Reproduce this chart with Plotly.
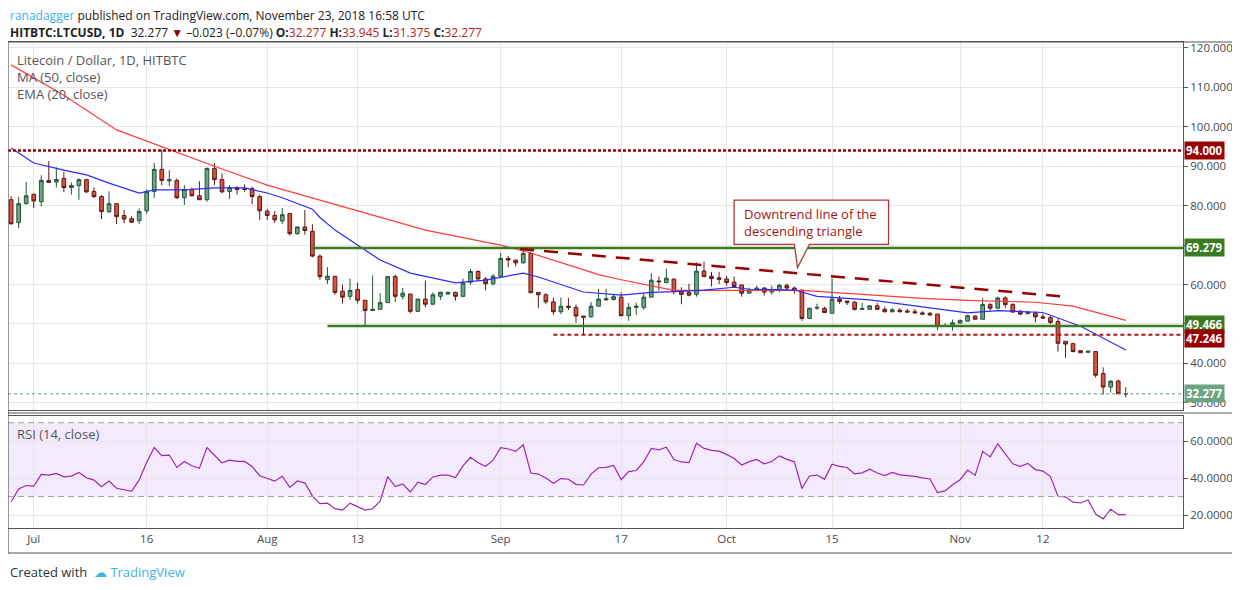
import pandas as pd
import plotly.graph_objects as go
from plotly.subplots import make_subplots

# ---------------------------------------------------------------
# Data (HITBTC:LTCUSD daily, Jun 28 - Nov 23 2018)
# ---------------------------------------------------------------
START = "2018-06-28"
opens = [81.5, 75.7, 80.5, 82.9, 81.0, 86.4, 86.0, 86.9, 84.6, 85.1,
         86.6, 83.6, 82.3, 78.5, 80.5, 77.5, 76.7, 76.2, 78.7, 83.6,
         89.2, 86.3, 86.4, 82.0, 84.1, 82.5, 81.5, 89.4, 86.6, 83.6,
         84.6, 84.3, 84.3, 82.3, 78.6, 77.5, 76.1, 78.0, 72.9, 74.6,
         73.5, 67.2, 61.2, 62.1, 58.3, 57.0, 58.7, 56.0, 53.4, 53.7,
         55.4, 62.0, 57.0, 57.6, 53.2, 56.3, 55.0, 57.0, 57.6, 58.0,
         57.0, 60.6, 63.3, 61.4, 60.2, 62.1, 66.6, 66.2, 65.5, 67.9,
         58.0, 57.4, 55.6, 53.1, 54.5, 54.2, 52.0, 51.8, 54.5, 56.1,
         56.2, 56.8, 52.1, 54.2, 54.2, 56.8, 60.9, 60.5, 61.4, 58.2,
         58.0, 57.5, 63.4, 62.1, 61.7, 61.4, 60.6, 59.9, 57.8, 58.6,
         59.1, 58.1, 58.6, 59.8, 59.1, 58.6, 51.4, 54.0, 53.9, 52.7,
         56.3, 55.8, 55.5, 53.7, 53.7, 54.6, 53.7, 53.1, 53.5, 53.3,
         53.1, 52.8, 52.7, 52.5, 49.4, 49.5, 50.2, 50.7, 52.0, 51.2,
         54.9, 54.0, 56.6, 54.9, 53.2, 52.6, 52.8, 51.8, 51.6, 50.6,
         45.6, 45.0, 43.2, 42.8, 43.0, 37.4, 34.0, 35.5, 32.277]
highs = [82.4, 82.2, 86.0, 83.0, 87.7, 91.3, 89.7, 88.5, 85.9, 86.9,
         86.8, 84.6, 82.7, 83.6, 80.5, 78.9, 77.3, 79.3, 84.1, 90.8,
         94.2, 89.0, 86.9, 85.2, 84.6, 86.2, 89.7, 90.8, 88.2, 85.2,
         84.9, 85.4, 84.8, 82.8, 79.2, 78.6, 79.4, 78.0, 74.6, 78.9,
         75.3, 67.6, 64.4, 62.1, 60.0, 61.5, 60.5, 56.0, 62.3, 57.8,
         62.0, 62.5, 59.1, 57.6, 56.3, 61.0, 58.0, 58.2, 58.2, 58.2,
         61.5, 63.9, 63.6, 61.9, 62.7, 68.0, 67.2, 66.2, 69.1, 68.3,
         58.0, 57.8, 56.7, 56.7, 56.6, 54.9, 52.0, 55.6, 58.9, 58.9,
         57.6, 58.0, 55.3, 55.4, 57.6, 62.9, 62.0, 64.0, 61.4, 59.3,
         60.2, 65.6, 65.8, 63.2, 63.2, 62.2, 62.0, 59.9, 59.2, 59.7,
         59.3, 59.7, 60.2, 60.2, 59.5, 58.6, 54.0, 55.1, 54.4, 61.6,
         57.1, 55.8, 55.8, 55.4, 54.6, 55.3, 54.4, 54.0, 54.0, 53.8,
         53.8, 53.2, 53.0, 52.5, 50.2, 51.1, 51.1, 52.3, 52.1, 56.6,
         55.3, 56.9, 57.0, 55.3, 53.6, 53.1, 53.2, 52.5, 52.1, 51.4,
         45.6, 45.2, 43.4, 43.2, 43.0, 39.0, 35.7, 35.9, 33.945]
lows = [75.2, 74.3, 80.3, 79.4, 79.8, 85.8, 84.6, 83.4, 82.8, 81.5,
        83.2, 81.9, 76.6, 78.1, 75.3, 75.6, 75.6, 75.3, 77.9, 82.0,
        85.2, 84.9, 81.7, 80.2, 82.3, 81.5, 81.0, 85.2, 83.1, 81.7,
        82.8, 83.5, 80.4, 76.4, 76.4, 75.6, 75.3, 72.4, 72.6, 72.6,
        66.9, 61.2, 60.1, 57.4, 55.2, 56.1, 55.2, 49.4, 53.3, 53.7,
        55.4, 55.6, 56.2, 52.7, 53.2, 54.2, 55.0, 56.1, 57.4, 55.9,
        56.8, 59.9, 61.0, 58.5, 59.7, 61.9, 64.4, 64.6, 65.3, 57.9,
        54.0, 55.0, 52.3, 52.5, 53.5, 50.3, 47.4, 51.6, 54.5, 55.9,
        56.0, 51.9, 50.8, 52.3, 53.6, 56.8, 58.5, 60.3, 57.5, 55.0,
        57.0, 56.9, 61.9, 59.5, 60.1, 59.7, 59.1, 56.9, 57.7, 58.3,
        57.2, 57.5, 58.0, 58.6, 57.7, 50.8, 51.2, 53.6, 52.7, 52.7,
        55.1, 54.8, 53.4, 53.6, 53.6, 53.6, 52.9, 52.9, 52.9, 52.9,
        52.7, 52.3, 52.0, 48.5, 49.3, 48.3, 50.2, 50.6, 51.1, 51.2,
        53.4, 53.9, 54.0, 52.9, 52.2, 52.5, 50.4, 51.2, 50.0, 43.0,
        41.4, 42.8, 42.6, 42.7, 36.4, 32.1, 32.6, 32.2, 31.375]
closes = [75.4, 80.5, 82.5, 81.2, 86.4, 85.9, 86.6, 84.6, 85.1, 86.6,
          83.5, 82.3, 78.5, 80.5, 77.2, 76.6, 75.8, 78.5, 83.6, 89.2,
          86.4, 86.6, 82.0, 84.1, 82.5, 81.5, 89.4, 86.6, 83.5, 84.6,
          84.1, 84.1, 82.3, 78.7, 77.5, 76.4, 77.7, 72.9, 74.6, 73.7,
          67.2, 62.0, 62.1, 58.0, 56.8, 58.5, 56.0, 53.4, 53.7, 55.4,
          62.0, 57.0, 57.8, 53.2, 56.3, 55.0, 57.4, 58.0, 58.0, 57.0,
          60.4, 63.3, 61.4, 60.2, 62.1, 66.6, 66.2, 65.5, 67.9, 57.9,
          57.4, 55.6, 53.1, 54.5, 54.2, 52.0, 51.7, 54.5, 56.3, 56.4,
          56.9, 52.1, 54.2, 54.5, 56.8, 61.1, 60.7, 61.6, 58.2, 57.5,
          57.3, 63.4, 62.0, 61.5, 61.3, 60.5, 59.5, 57.8, 58.6, 59.1,
          58.1, 58.6, 59.8, 59.1, 58.6, 51.4, 54.0, 54.2, 52.9, 56.3,
          55.7, 55.4, 53.7, 53.9, 54.6, 53.7, 53.1, 53.6, 53.1, 53.0,
          52.8, 52.5, 52.3, 49.4, 49.6, 50.3, 50.9, 52.1, 51.2, 54.9,
          54.0, 56.6, 54.9, 53.0, 52.5, 53.0, 51.8, 51.5, 50.4, 45.1,
          44.9, 43.0, 42.7, 43.1, 37.0, 34.0, 35.5, 32.3, 32.277]

# moving averages read at points (day index, value)
ma50_idx = [0, 7, 14, 20, 27, 34, 41, 55, 65, 69, 78, 81, 88, 105, 109, 121, 127, 136, 141, 148]
ma50_val = [115.7, 108.0, 99.2, 94.9, 90.0, 85.2, 81.4, 73.8, 70.0, 68.0, 62.5, 61.2, 58.5, 58.5,
            58.0, 56.5, 56.0, 55.5, 54.5, 50.9]
ema20_idx = [0, 3, 7, 10, 13, 17, 19, 23, 27, 31, 34, 36, 40, 41, 43, 46, 49, 53, 59, 63, 68, 70,
             76, 81, 85, 88, 92, 96, 98, 104, 107, 114, 121, 127, 131, 137, 142, 148]
ema20_val = [94.6, 90.8, 89.0, 87.8, 85.7, 83.2, 84.0, 84.0, 84.5, 84.5, 83.2, 82.0, 79.1, 77.0,
             73.8, 70.0, 66.2, 62.9, 60.4, 61.1, 62.9, 61.9, 58.1, 57.3, 58.0, 58.2, 58.6, 59.3,
             58.8, 58.6, 57.0, 56.1, 54.4, 52.8, 53.4, 52.9, 49.4, 43.4]
# RSI read for the first two weeks, and the average gain/loss it implies on Jul 11
rsi_first = [27.2, 34.1, 36.0, 35.7, 42.0, 41.6, 42.5, 40.7, 41.1, 43.1, 40.2, 38.9, 35.3, 38.4]
rsi_seed_gain, rsi_seed_loss = 0.85, 1.36

price_ticks = [30, 40, 50, 60, 70, 80, 90, 100, 110, 120]
price_labels = ["30.000", "40.000", "", "60.000", "", "80.000", "90.000", "100.000", "110.000", "120.000"]
rsi_ticks = [20, 40, 60]
date_ticks = ["2018-07-01", "2018-07-16", "2018-08-01", "2018-08-13", "2018-09-01",
              "2018-09-17", "2018-10-01", "2018-10-15", "2018-11-01", "2018-11-12"]
date_labels = ["Jul", "16", "Aug", "13", "Sep", "17", "Oct", "15", "Nov", "12"]

levels = [94.000, 69.279, 49.466, 47.246]
last_price = 32.277

# ---------------------------------------------------------------
dates = pd.date_range(START, periods=len(closes), freq="D")

# RSI(14), Wilder smoothing after the read values
n = 14
ag, al = rsi_seed_gain, rsi_seed_loss
rsi = list(rsi_first)
for i in range(len(rsi_first), len(closes)):
    d = closes[i] - closes[i - 1]
    ag = (ag * (n - 1) + max(d, 0)) / n
    al = (al * (n - 1) + max(-d, 0)) / n
    rsi.append(100 - 100 / (1 + ag / al) if al else 100)

# page body adds an 8px margin, so the figure is 8px smaller and all
# screen positions below are given in window pixels
OFF = 8
W, H = 1240 - OFF, 590 - OFF
L, R, T, B = 8, 1183, 42, 528


def px(x):
    return (x - L) / (R - L)


def py(y):
    return (B - y) / (B - T)


def ds(t):
    return t.strftime("%Y-%m-%d_%H:%M:%S")


fig = make_subplots(rows=2, cols=1, shared_xaxes=True, vertical_spacing=0.013,
                    row_heights=[0.757, 0.23])

fig.add_trace(go.Candlestick(
    x=dates, open=opens, high=highs, low=lows, close=closes,
    increasing=dict(line=dict(color="#225437", width=1), fillcolor="#6ba583"),
    decreasing=dict(line=dict(color="#5b1a13", width=1), fillcolor="#d75442"),
    whiskerwidth=0, showlegend=False, hoverinfo="skip"), row=1, col=1)

fig.add_trace(go.Scatter(x=dates[ma50_idx], y=ma50_val, mode="lines",
                         line=dict(color="#ff3b3b", width=1.2), showlegend=False), row=1, col=1)
fig.add_trace(go.Scatter(x=dates[ema20_idx], y=ema20_val, mode="lines",
                         line=dict(color="#2a2aff", width=1.2), showlegend=False), row=1, col=1)
fig.add_trace(go.Scatter(x=dates, y=rsi, mode="lines",
                         line=dict(color="#9c27b0", width=1.2), showlegend=False), row=2, col=1)

x_left = dates[0] - pd.Timedelta(hours=10)
x_right = dates[0] + pd.Timedelta(days=155.6)
far = x_right + pd.Timedelta(days=5)

# horizontal levels
fig.add_shape(type="line", x0=x_left, x1=far, y0=levels[0], y1=levels[0], xref="x", yref="y",
              line=dict(color="#990000", width=2.5, dash="3px,2px"))
fig.add_shape(type="line", x0=dates[40], x1=far, y0=levels[1], y1=levels[1], xref="x", yref="y",
              line=dict(color="#3a7a22", width=2.5))
fig.add_shape(type="line", x0=dates[42], x1=far, y0=levels[2], y1=levels[2], xref="x", yref="y",
              line=dict(color="#3a7a22", width=2.5))
fig.add_shape(type="line", x0=dates[72], x1=far, y0=levels[3], y1=levels[3], xref="x", yref="y",
              line=dict(color="#b01515", width=2, dash="4px,3px"))
# downtrend line
fig.add_shape(type="line", x0=dates[67] + pd.Timedelta(hours=14), x1=dates[140] + pd.Timedelta(hours=14),
              y0=69.0, y1=56.8, xref="x", yref="y",
              line=dict(color="#990000", width=2.5, dash="14px,10px"))
# last price
fig.add_shape(type="line", x0=x_left, x1=far, y0=last_price, y1=last_price, xref="x", yref="y",
              line=dict(color="#5c9a78", width=1, dash="dot"))

# RSI band
fig.add_shape(type="rect", x0=x_left, x1=far, y0=30, y1=70, xref="x2", yref="y2",
              fillcolor="rgba(170,90,240,0.13)", line=dict(width=0), layer="below")
for lv in (30, 70):
    fig.add_shape(type="line", x0=x_left, x1=far, y0=lv, y1=lv, xref="x2", yref="y2",
                  line=dict(color="#a0a0a0", width=1, dash="6px,4px"))

# callout box
bx0, bx1 = dates[96], dates[116] + pd.Timedelta(hours=12)
fig.add_shape(type="path", xref="x", yref="y",
              path=f"M {ds(bx0)},81.4 L {ds(bx1)},81.4 L {ds(bx1)},70.2 L {ds(dates[106])},70.2 "
                   f"L {ds(dates[104] + pd.Timedelta(hours=10))},64.3 L {ds(dates[104])},70.2 "
                   f"L {ds(bx0)},70.2 Z",
              fillcolor="white", line=dict(color="#b03a3a", width=1.3))
fig.add_annotation(x=dates[97], y=75.8, xref="x", yref="y", xanchor="left", showarrow=False,
                   text="Downtrend line of the<br>descending triangle", align="left",
                   font=dict(size=13, color="#a31515", family="Open Sans"))

# right-axis tags (value, text, colour, vertical nudge in px)
tags = [(levels[0], "94.000", "#990000", 0), (levels[1], "69.279", "#3a7a22", 0),
        (levels[2], "49.466", "#3a7a22", 2), (levels[3], "47.246", "#990000", -4),
        (last_price, "32.277", "#6ba583", 0)]
for val, txt, col, nudge in tags:
    fig.add_annotation(x=1, xref="paper", y=val, yref="y", xanchor="left", yanchor="middle",
                       showarrow=False, text=f"<b>{txt}</b>", bgcolor=col, borderpad=1,
                       xshift=1, yshift=nudge, font=dict(size=11.5, color="white", family="Open Sans"))


def label(txt, x, y, size=13, color="#555555"):
    fig.add_annotation(x=px(x), y=py(y), xref="paper", yref="paper", xanchor="left",
                       yanchor="middle", showarrow=False, text=txt,
                       font=dict(size=size, color=color, family="Open Sans"))


label("Litecoin / Dollar, 1D, HITBTC", 15, 60)
label("MA (50, close)", 15, 77)
label("EMA (20, close)", 15, 94)
label("RSI (14, close)", 15, 434)

# header / footer
label("<span style='color:#3bb3e4'>ranadagger</span> published on TradingView.com, "
      "November 23, 2018 16:58 UTC", 8, 16, size=12, color="#222")
label("<b>HITBTC:LTCUSD, 1D</b>  32.277 <span style='color:#8b0000'>▼</span> –0.023 (–0.07%) "
      "<b>O:</b><span style='color:#b22222'>32.277</span> <b>H:</b><span style='color:#b22222'>33.945</span> "
      "<b>L:</b><span style='color:#b22222'>31.375</span> <b>C:</b><span style='color:#b22222'>32.277</span>",
      8, 33, size=12, color="#222")
label("Created with  <span style='color:#3bb3e4'>☁ TradingView</span>", 8, 572, color="#333")

# outer frame
fig.add_shape(type="rect", xref="paper", yref="paper", x0=px(8), x1=px(1233), y0=py(553), y1=py(42),
              line=dict(color="#555", width=1.2))
fig.add_shape(type="line", xref="paper", yref="paper", x0=px(8), x1=px(1233), y0=py(413), y1=py(413),
              line=dict(color="#555", width=1.2))

axfont = dict(size=11.5, color="#4a4a4a", family="Open Sans")
fig.update_xaxes(range=[x_left, x_right], showgrid=True, gridcolor="#e6e6e6",
                 tickvals=pd.to_datetime(date_ticks), ticktext=date_labels, showline=True,
                 linecolor="#555", mirror=True, rangeslider_visible=False, tickfont=axfont,
                 ticks="", zeroline=False)
fig.update_xaxes(showticklabels=False, row=1, col=1)
fig.update_yaxes(side="right", range=[28.2, 121.5], tickvals=price_ticks, ticktext=price_labels,
                 gridcolor="#e6e6e6", showline=True, linecolor="#555", mirror=True,
                 ticks="outside", ticklen=4, tickcolor="#555", tickfont=axfont, row=1, col=1)
fig.update_yaxes(side="right", range=[13, 73.5], tickvals=rsi_ticks, tickformat=".4f",
                 gridcolor="#e6e6e6", showline=True, linecolor="#555", mirror=True,
                 ticks="outside", ticklen=4, tickcolor="#555", tickfont=axfont, row=2, col=1)

fig.update_layout(width=W, height=H,
                  margin=dict(l=L - OFF, r=W - (R - OFF), t=T - OFF, b=H - (B - OFF), autoexpand=False),
                  paper_bgcolor="white", plot_bgcolor="white", showlegend=False,
                  font=dict(family="Open Sans"))

fig.write_html("out.html")
